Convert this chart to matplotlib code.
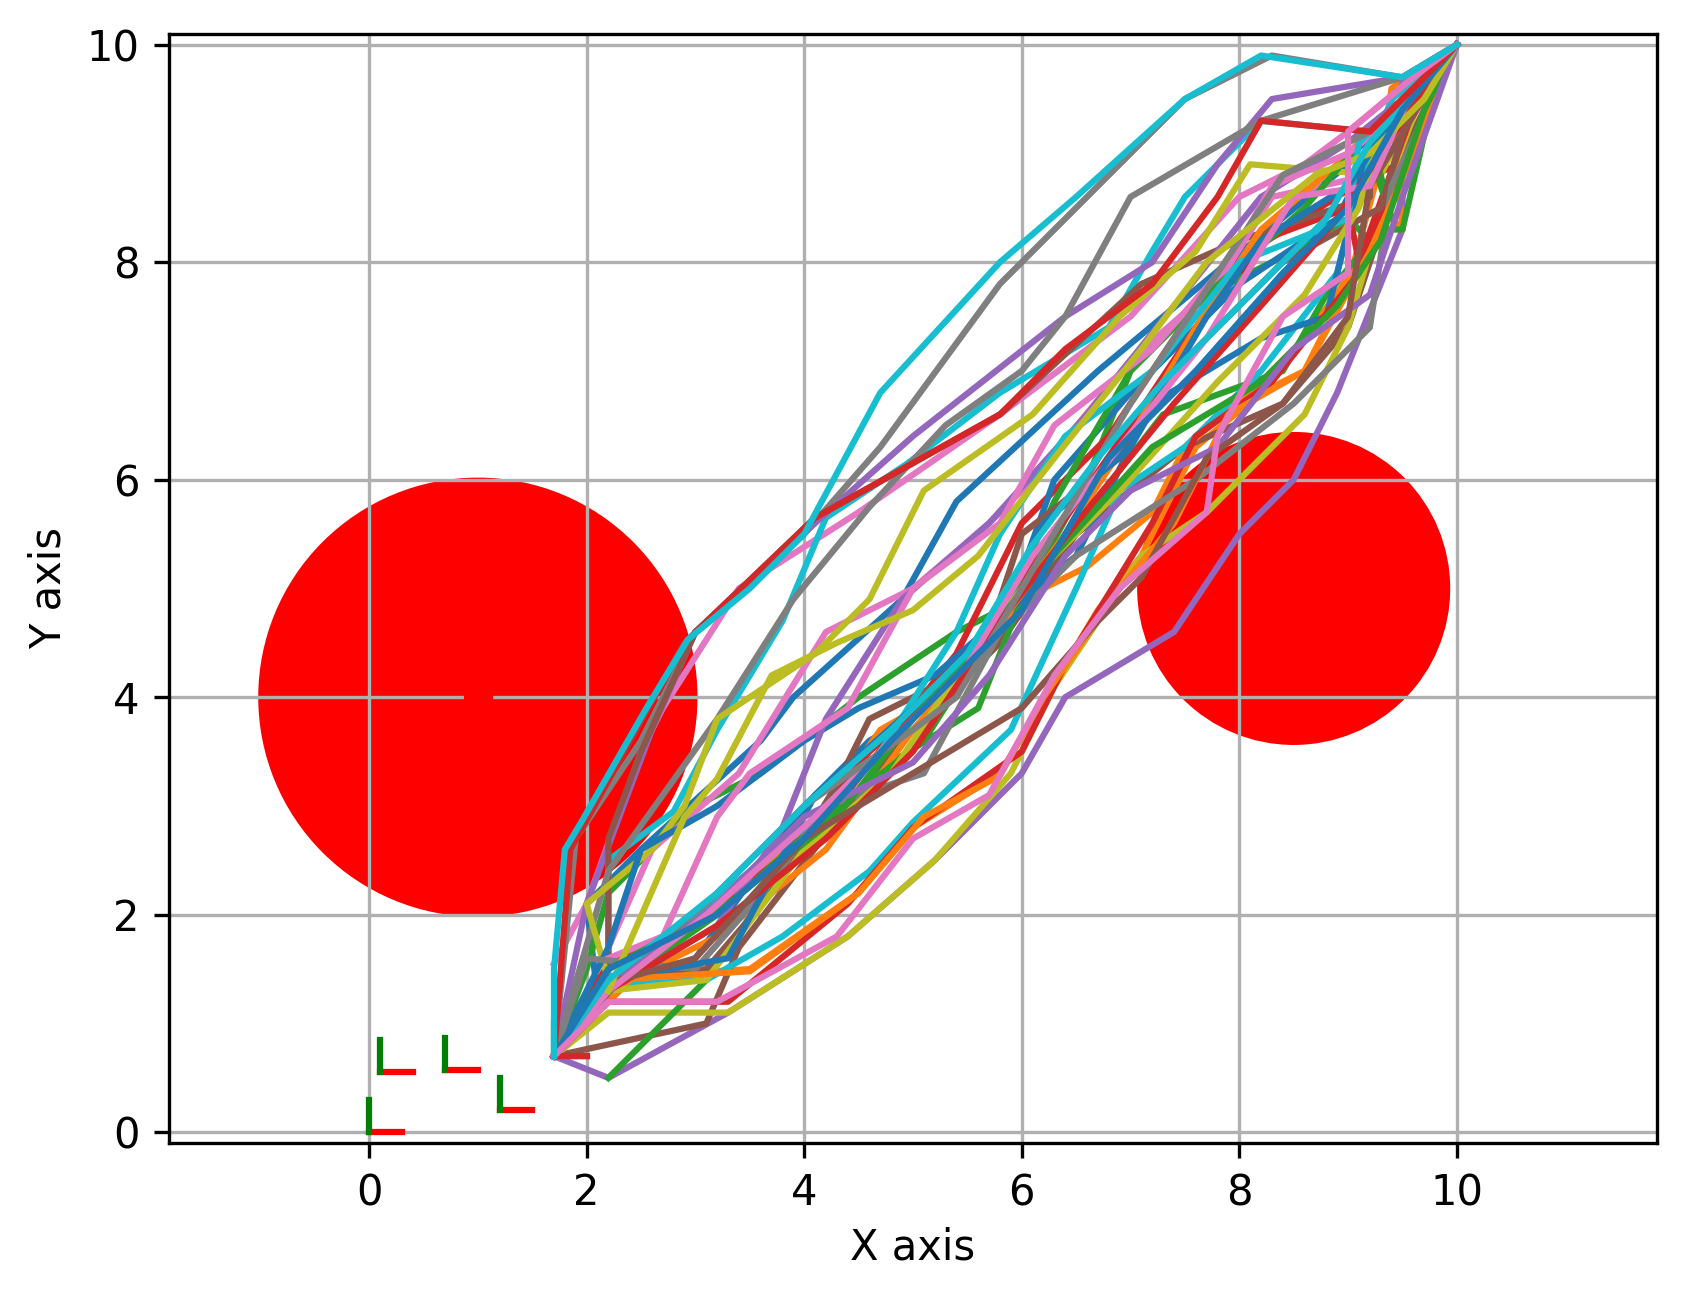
import matplotlib
matplotlib.use("Agg")
import matplotlib.pyplot as plt

# obstacles
big_circles = [(1.0, 4.0, 2.0), (8.5, 5.0, 1.42)]
obstacle_points = [(1.0, 4.0), (8.0, 8.0), (8.5, 5.0)]

# poses drawn as small red/green frames
frame_x = [0.0, 0.1, 0.7, 1.2, 1.7]
frame_y = [0.0, 0.55, 0.57, 0.2, 0.7]
frame_len = 0.3

# paths, one list per colour, (x, y)
blue = [
    [(1.7, .7), (2.1, 1.25), (2.0, 2.1), (2.5, 2.6), (3.05, 3.1), (3.6, 3.6), (3.9, 4.0), (4.9, 4.9), (5.4, 5.8), (6.7, 7.0), (7.9, 8.0), (9.0, 8.9), (9.2, 9.2), (10, 10)],
    [(1.7, .7), (2.2, 1.3), (3.0, 1.6), (4.0, 3.0), (4.6, 3.6), (5.3, 4.0), (5.8, 4.6), (6.3, 6.0), (7.0, 6.8), (8.0, 7.8), (8.9, 8.4), (9.2, 9.0), (10, 10)],
    [(1.7, .7), (2.2, 1.7), (2.5, 2.6), (3.2, 3.0), (4.0, 3.6), (4.5, 3.9), (5.2, 4.2), (6.0, 4.9), (6.5, 5.3), (7.2, 6.7), (8.2, 7.3), (8.8, 7.5), (9.0, 8.3), (9.2, 9.2), (10, 10)],
    [(1.7, .7), (2.2, 1.4), (3.3, 1.6), (4.1, 3.1), (5.0, 3.9), (5.6, 4.4), (6.2, 5.6), (7.0, 6.3), (7.7, 7.5), (8.2, 8.2), (9.0, 8.7), (9.4, 9.3), (10, 10)],
    [(1.7, .7), (2.2, 1.5), (3.2, 2.0), (4.0, 2.7), (4.8, 3.6), (5.5, 4.3), (6.0, 4.8), (6.8, 6.2), (7.6, 7.0), (8.4, 7.9), (9.0, 8.5), (9.5, 9.4), (10, 10)],
]
orange = [
    [(1.7, .7), (2.2, 1.42), (3.5, 1.5), (4.5, 2.2), (5.0, 2.8), (5.8, 3.3), (6.1, 3.8), (6.7, 4.8), (7.1, 5.3), (7.6, 6.3), (8.2, 6.8), (8.6, 7.0), (9.0, 7.8), (9.3, 8.9), (9.4, 9.6), (10, 10)],
    [(1.7, .7), (2.3, 1.3), (3.0, 2.0), (4.0, 2.7), (4.7, 3.7), (5.4, 4.1), (6.0, 4.9), (6.6, 5.2), (7.2, 5.7), (7.5, 6.3), (8.1, 6.8), (8.6, 7.3), (9.1, 8.0), (9.3, 8.5), (9.5, 8.3), (9.4, 9.5), (10, 10)],
    [(1.7, .7), (2.4, 1.4), (3.2, 1.8), (4.2, 2.6), (5.0, 3.7), (5.6, 4.4), (6.4, 5.5), (7.0, 6.4), (7.6, 7.4), (8.2, 8.3), (8.9, 8.9), (9.3, 9.3), (10, 10)],
    [(1.7, .7), (2.2, 1.4), (3.5, 1.48), (4.5, 2.2), (5.1, 2.9), (5.8, 3.28), (6.2, 4.0), (6.9, 5.0), (7.4, 5.6), (7.9, 6.6), (8.6, 7.0), (9.2, 8.1), (9.6, 9.0), (10, 10)],
]
green = [
    [(1.7, .7), (2.0, 1.5), (2.2, 2.2), (3.0, 3.0), (3.6, 3.3), (4.5, 4.0), (5.4, 4.6), (6.0, 4.9), (6.6, 6.0), (7.0, 7.0), (7.7, 7.7), (8.3, 8.0), (9.0, 8.4), (9.2, 8.2), (9.7, 9.3), (10, 10)],
    [(2.2, .5), (3.1, 1.4), (4.0, 2.7), (4.8, 3.4), (5.6, 3.9), (6.0, 4.9), (6.6, 5.7), (7.3, 6.6), (8.4, 7.0), (8.8, 7.7), (9.3, 8.3), (9.5, 8.3), (9.8, 9.6), (10, 10)],
    [(1.7, .7), (2.2, 1.3), (3.2, 2.0), (4.2, 2.9), (5.1, 3.6), (5.8, 4.7), (6.3, 5.8), (7.0, 7.0), (7.7, 7.7), (8.6, 8.5), (9.2, 9.2), (9.4, 8.4), (9.2, 9.0), (10, 10)],
    [(1.7, .7), (2.2, 1.5), (3.3, 2.1), (4.3, 2.9), (5.0, 3.8), (5.6, 4.5), (6.2, 5.2), (7.2, 6.3), (8.2, 6.9), (8.9, 7.6), (9.3, 8.2), (9.7, 9.4), (10, 10)],
]
red = [
    [(1.7, .7), (2.2, 1.55), (3.3, 2.1), (4.3, 3.0), (5.0, 3.9), (5.4, 4.4), (6.0, 5.6), (6.8, 6.4), (7.6, 7.6), (8.1, 8.1), (8.9, 8.6), (9.2, 8.8), (9.5, 8.9), (10, 10)],
    [(1.7, .7), (2.2, 1.4), (3.1, 2.0), (3.9, 2.6), (4.6, 3.5), (5.4, 4.2), (6.3, 5.5), (7.0, 6.5), (7.6, 7.4), (8.2, 8.2), (9.0, 8.5), (9.1, 8.0), (9.6, 9.4), (10, 10)],
    [(1.7, .7), (2.2, 1.2), (3.3, 1.2), (4.4, 2.1), (5.0, 2.8), (6.0, 3.5), (6.4, 4.3), (7.2, 5.6), (7.6, 6.4), (8.3, 6.9), (9.1, 7.9), (9.5, 8.9), (10, 10)],
    [(2.0, .7), (1.7, .7), (2.2, 1.3), (3.2, 1.9), (4.2, 2.7), (5.0, 3.5), (5.8, 4.7), (6.5, 5.6), (7.4, 6.7), (8.2, 7.6), (8.9, 8.4), (9.3, 9.0), (10, 10)],
    [(1.7, .7), (1.85, 2.6), (2.9, 4.5), (4.1, 5.65), (5.8, 6.6), (6.4, 7.2), (7.2, 7.8), (7.8, 8.6), (8.2, 9.3), (9.2, 9.2), (10, 10)],
]
purple = [
    [(1.7, .7), (2.2, .5), (3.3, 1.1), (4.4, 1.8), (5.2, 2.5), (6.0, 3.3), (6.4, 4.0), (7.4, 4.6), (8.0, 5.5), (8.5, 6.0), (8.9, 6.8), (9.5, 8.3), (9.5, 9.65), (10, 10)],
    [(1.7, .7), (2.0, 2.1), (2.6, 3.7), (3.0, 4.6), (4.1, 5.6), (5.0, 6.4), (6.4, 7.5), (7.2, 8.0), (7.8, 8.9), (8.3, 9.5), (9.5, 9.7), (10, 10)],
    [(1.7, .7), (2.2, 1.3), (3.2, 1.9), (3.8, 2.8), (4.2, 3.8), (4.9, 4.9), (5.7, 5.6), (6.6, 6.6), (7.4, 7.6), (8.2, 8.6), (9.0, 9.1), (9.5, 9.5), (10, 10)],
    [(1.7, .7), (2.3, 1.4), (3.2, 2.1), (4.0, 2.9), (5.0, 3.4), (5.7, 4.2), (6.4, 5.3), (7.0, 5.9), (7.8, 6.3), (8.5, 7.2), (9.2, 7.7), (9.5, 8.6), (10, 10)],
]
brown = [
    [(1.7, .7), (3.1, 1.0), (3.4, 1.7), (4.4, 3.0), (5.0, 3.7), (5.8, 4.5), (6.5, 5.5), (7.5, 6.3), (8.4, 6.7), (9.0, 7.4), (9.4, 8.6), (9.6, 9.2), (10, 10)],
    [(1.7, .7), (2.2, 1.5), (2.2, 2.7), (2.5, 3.5), (3.0, 4.6), (4.1, 5.65), (5.8, 6.6), (7.1, 7.8), (8.0, 8.2), (9.2, 8.6), (9.2, 9.2), (10, 10)],
    [(1.7, .7), (2.2, 1.42), (3.1, 1.5), (3.7, 2.2), (4.3, 3.2), (4.6, 3.8), (5.2, 4.1), (5.7, 4.6), (6.0, 5.5), (6.9, 6.2), (7.4, 7.0), (8.4, 8.0), (9.3, 8.5), (9.6, 9.5), (10, 10)],
    [(1.7, .7), (2.3, 1.4), (3.0, 1.6), (4.0, 2.7), (5.0, 3.3), (6.0, 3.9), (6.7, 4.7), (7.1, 5.1), (7.7, 6.2), (8.4, 6.7), (9.0, 7.5), (9.2, 8.7), (10, 10)],
]
pink = [
    [(1.7, 1.55), (2.0, 2.1), (2.5, 3.5), (2.7, 3.9), (3.4, 5.0), (4.5, 5.7), (5.8, 6.6), (7.0, 7.5), (8.0, 8.6), (8.6, 8.9), (9.0, 9.2), (9.6, 9.7), (10, 10)],
    [(2.2, 1.7), (2.6, 2.6), (3.4, 3.3), (4.2, 4.6), (5.0, 5.0), (5.7, 5.6), (6.1, 6.0), (7.0, 7.1), (7.8, 7.8), (8.3, 8.6), (9.2, 8.8), (9.5, 9.5), (10, 10)],
    [(2.2, 1.6), (2.7, 1.8), (3.2, 2.9), (3.5, 3.3), (4.4, 3.9), (5.0, 5.0), (5.8, 5.6), (6.3, 6.5), (7.2, 7.2), (7.9, 8.0), (8.3, 8.7), (9.0, 9.0), (9.5, 9.4), (10, 10)],
    [(1.7, .7), (2.2, 1.3), (3.1, 2.0), (4.1, 2.9), (4.8, 3.6), (5.5, 4.3), (6.1, 5.3), (6.9, 6.3), (7.7, 7.3), (8.5, 8.6), (9.2, 8.7), (9.6, 9.6), (10, 10)],
    [(1.7, .7), (2.2, 1.2), (3.2, 1.2), (4.3, 1.8), (5.0, 2.7), (5.7, 3.1), (6.3, 4.2), (6.9, 5.0), (7.7, 5.7), (7.8, 6.4), (8.4, 7.5), (9.0, 7.9), (9.0, 9.2), (9.6, 9.7), (10, 10)],
]
gray = [
    [(1.7, .7), (1.9, 2.7), (2.5, 3.6), (3.0, 4.6), (4.0, 5.5), (4.7, 6.3), (5.8, 7.8), (7.5, 9.5), (8.3, 9.9), (9.5, 9.7), (10, 10)],
    [(1.7, .7), (2.2, 2.4), (3.2, 3.8), (3.9, 4.9), (4.6, 5.75), (5.3, 6.5), (6.0, 7.0), (6.4, 7.5), (7.0, 8.6), (8.2, 9.3), (9.5, 9.7), (10, 10)],
    [(1.7, .7), (2.0, 1.6), (3.0, 1.5), (3.7, 2.3), (4.2, 3.0), (5.1, 3.3), (5.8, 4.6), (6.5, 5.3), (7.6, 6.0), (8.5, 6.7), (9.2, 7.4), (9.4, 8.7), (10, 10)],
    [(1.7, .7), (2.2, 1.4), (3.1, 2.1), (4.0, 3.0), (5.0, 3.7), (5.4, 4.0), (6.0, 5.0), (7.0, 6.7), (7.8, 7.9), (8.4, 8.8), (9.2, 9.2), (10, 10)],
]
olive = [
    [(1.7, .7), (2.2, 1.1), (3.3, 1.1), (4.4, 1.8), (5.2, 2.5), (5.9, 3.3), (6.3, 4.1), (7.1, 5.3), (7.7, 5.7), (8.3, 6.3), (8.6, 6.6), (9.0, 7.4), (9.4, 8.8), (9.7, 9.6), (10, 10)],
    [(1.7, .7), (2.2, 1.4), (2.0, 2.1), (2.6, 2.6), (2.9, 3.0), (3.2, 3.8), (4.1, 4.4), (4.6, 4.9), (5.1, 5.9), (6.1, 6.6), (6.9, 7.5), (7.6, 8.1), (8.1, 8.9), (9.3, 8.8), (9.6, 9.4), (10, 10)],
    [(1.7, .7), (2.2, 1.3), (3.1, 1.4), (4.0, 2.6), (4.8, 3.3), (5.4, 4.2), (6.0, 5.0), (6.9, 5.9), (7.8, 6.9), (8.6, 7.7), (9.1, 8.5), (9.3, 9.2), (10, 10)],
    [(2.2, 1.3), (2.9, 2.9), (3.2, 3.25), (3.7, 4.2), (4.3, 4.5), (5.0, 4.8), (5.6, 5.3), (6.3, 6.2), (7.1, 7.2), (7.7, 8.0), (8.7, 8.8), (9.2, 9.0), (9.7, 9.5), (10, 10)],
]
cyan = [
    [(1.7, .7), (2.2, 1.4), (2.2, 2.5), (2.8, 2.95), (3.2, 3.7), (3.8, 4.7), (4.2, 5.65), (4.95, 6.15), (5.8, 6.8), (6.8, 7.4), (7.2, 8.1), (7.5, 8.6), (8.2, 9.3), (9.2, 9.2), (10, 10)],
    [(1.7, .7), (2.2, 1.35), (3.1, 1.4), (3.8, 1.8), (4.6, 2.4), (5.0, 2.85), (5.9, 3.7), (6.5, 5.0), (6.9, 5.9), (7.5, 6.3), (8.2, 7.0), (8.9, 7.9), (9.1, 8.7), (9.4, 9.5), (10, 10)],
    [(2.2, 1.4), (3.0, 2.0), (4.0, 2.8), (4.7, 3.5), (5.4, 4.6), (5.8, 5.5), (6.4, 6.4), (7.2, 7.0), (8.0, 8.0), (9.0, 8.4), (9.1, 9.1), (10, 10)],
    [(1.7, .7), (2.2, 1.4), (3.2, 2.2), (4.0, 3.0), (4.8, 3.7), (5.5, 4.4), (6.1, 5.4), (6.7, 6.2), (7.3, 6.9), (8.0, 7.6), (8.8, 8.4), (9.2, 9.1), (10, 10)],
    [(1.7, .7), (1.7, 1.5), (1.8, 2.6), (1.95, 2.85), (2.55, 3.9), (2.93, 4.53), (3.5, 5.0), (4.0, 5.5), (4.7, 6.8), (5.8, 8.0), (6.5, 8.6), (7.5, 9.5), (8.2, 9.9), (9.5, 9.7), (10, 10)],
]
path_groups = [blue, orange, green, red, purple, brown, pink, gray, olive, cyan]

fig = plt.figure(figsize=(5.62, 4.33), dpi=300)
ax = fig.add_axes([0.1002, 0.120, 0.8826, 0.854])

for cx, cy, r in big_circles:
    ax.add_patch(plt.Circle((cx, cy), r, color="red"))
for px, py in obstacle_points:
    ax.plot(px, py, "ro")

for fx, fy in zip(frame_x, frame_y):
    ax.plot([fx, fx + frame_len], [fy, fy], color="red")
    ax.plot([fx, fx], [fy, fy + frame_len], color="green")

# same order as the default cycle, round after round
n_rounds = max(len(g) for g in path_groups)
for i in range(n_rounds):
    for c, group in enumerate(path_groups):
        if i < len(group):
            xs = [p[0] for p in group[i]]
            ys = [p[1] for p in group[i]]
            ax.plot(xs, ys, color="C%d" % c)

ax.set_xlim(-1.84, 11.84)
ax.set_ylim(-0.1, 10.1)
ax.set_xticks([0, 2, 4, 6, 8, 10])
ax.set_yticks([0, 2, 4, 6, 8, 10])
ax.set_xlabel("X axis", labelpad=3)
ax.set_ylabel("Y axis")
ax.grid(True)

fig.savefig("out.png", dpi=300)
